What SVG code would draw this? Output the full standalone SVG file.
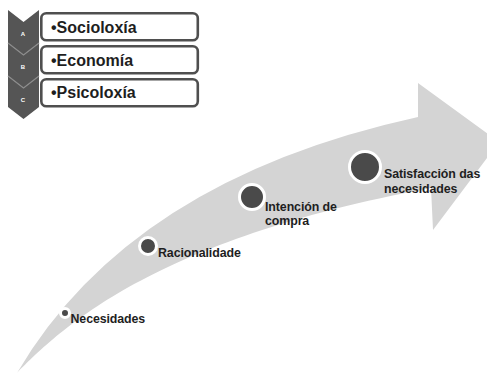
<svg xmlns="http://www.w3.org/2000/svg" width="487" height="374" viewBox="0 0 487 374">
<style>
.chev{fill:#555555}
.sep{fill:none;stroke:#8c8c8c;stroke-width:1.2}
.letter{font-family:"Liberation Sans",Arial,sans-serif;font-size:6px;font-weight:bold;fill:#ffffff;text-anchor:middle}
.box{fill:#ffffff;stroke:#4f4f4f;stroke-width:2.6}
.boxtxt{font-family:"Liberation Sans",Arial,sans-serif;font-size:16px;font-weight:bold;fill:#1e1e1e}
.arrow{fill:#d4d4d4}
.dot{fill:#4a4a4a;stroke:#ffffff;stroke-width:3}
.lbl{font-family:"Liberation Sans",Arial,sans-serif;font-size:12.4px;font-weight:bold;fill:#1e1e1e;letter-spacing:-0.1px}
</style>
<g id="arrow">
<path class="arrow" d="M17,373 Q130,180 418,117 L418,83 L499,142 L433,230 L431,188 C150,240 60,330 17,373 Z"/>
</g>
<g id="list-a">
<rect class="box" x="41.3" y="13.3" width="156.5" height="27" rx="5"/>
<polygon class="chev" points="8,10 23.5,22 39,10 39,43 23.5,55 8,43"/>
<text class="letter" x="23" y="35.5">A</text>
<text class="boxtxt" x="51" y="32.7">•Socioloxía</text>
</g>
<g id="list-b">
<rect class="box" x="41.3" y="46.3" width="156.5" height="27" rx="5"/>
<polygon class="chev" points="8,43 23.5,55 39,43 39,76 23.5,88 8,76"/>
<polyline class="sep" points="8,43 23.5,55 39,43"/>
<text class="letter" x="23" y="68.5">B</text>
<text class="boxtxt" x="51" y="65.5">•Economía</text>
</g>
<g id="list-c">
<rect class="box" x="41.3" y="79.3" width="156.5" height="27" rx="5"/>
<polygon class="chev" points="8,76 23.5,88 39,76 39,107 23.5,119 8,107"/>
<polyline class="sep" points="8,76 23.5,88 39,76"/>
<text class="letter" x="23" y="101.5">C</text>
<text class="boxtxt" x="51" y="98.3">•Psicoloxía</text>
</g>
<g id="step-necesidades">
<circle class="dot" cx="65" cy="313" r="4.5"/>
<text class="lbl" x="70.5" y="323">Necesidades</text>
</g>
<g id="step-racionalidade">
<circle class="dot" cx="148" cy="246" r="8.5"/>
<text class="lbl" x="158" y="257">Racionalidade</text>
</g>
<g id="step-intencion">
<circle class="dot" cx="252" cy="197" r="12.5"/>
<text class="lbl" x="265" y="210.5">Intención de</text>
<text class="lbl" x="265" y="225">compra</text>
</g>
<g id="step-satisfaccion">
<circle class="dot" cx="365" cy="167" r="15.5"/>
<text class="lbl" x="384" y="178.3">Satisfacción das</text>
<text class="lbl" x="384" y="193.3">necesidades</text>
</g>
</svg>
